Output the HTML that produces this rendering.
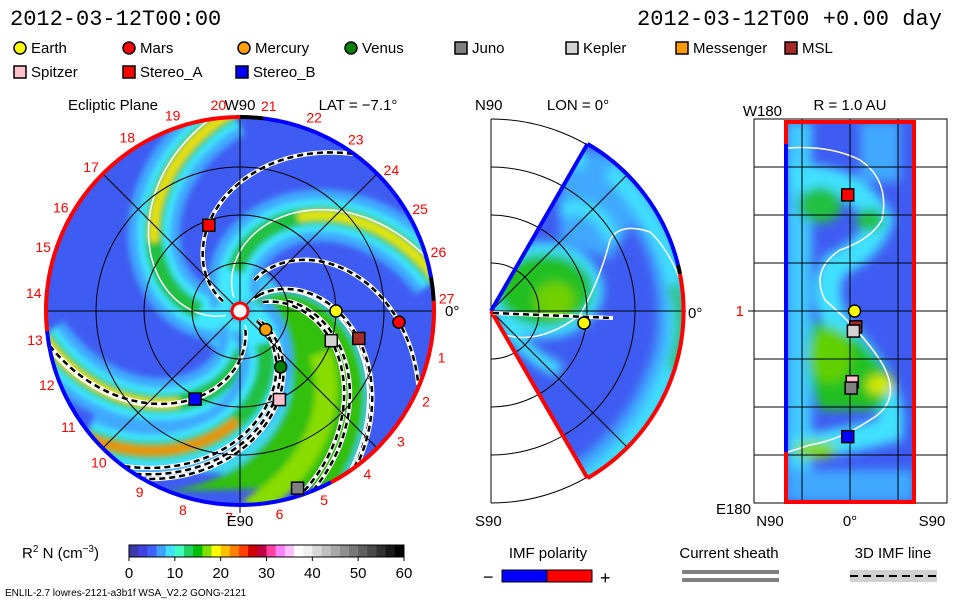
<!DOCTYPE html>
<html><head><meta charset="utf-8"><style>
html,body{margin:0;padding:0;background:#fff;}
svg{display:block;font-family:"Liberation Sans",sans-serif;}
</style></head><body>
<svg id="root" width="960" height="600" viewBox="0 0 960 600" xmlns="http://www.w3.org/2000/svg">
<defs>
  <filter id="blur3" x="-20%" y="-20%" width="140%" height="140%"><feGaussianBlur stdDeviation="3"/></filter>
  <filter id="blur5" x="-20%" y="-20%" width="140%" height="140%"><feGaussianBlur stdDeviation="5"/></filter>
  <clipPath id="diskClip"><circle cx="240" cy="311" r="194"/></clipPath>
  <clipPath id="wedgeClip"><path d="M491,311 L587.5,143.9 A193,193 0 0 1 587.5,478.1 Z"/></clipPath>
  <clipPath id="rectClip"><rect x="786" y="122" width="128" height="380"/></clipPath>
</defs>
<text x="10" y="25" font-family="Liberation Mono,monospace" font-size="22">2012-03-12T00:00</text>
<text x="942" y="25" text-anchor="end" font-family="Liberation Mono,monospace" font-size="22" textLength="305">2012-03-12T00 +0.00 day</text>
<g id="legend" font-size="15"></g>
<g id="left"></g>
<g id="mid"></g>
<g id="right"></g>
<g id="cbar"></g>
<g font-size="15">
  <text x="548" y="558" text-anchor="middle">IMF polarity</text>
  <text x="483" y="583" font-size="18">−</text>
  <rect x="502" y="570" width="45" height="12" fill="#0000ff" stroke="#000"/>
  <rect x="547" y="570" width="45" height="12" fill="#ff0000" stroke="#000"/>
  <text x="600" y="584" font-size="18">+</text>
  <text x="729" y="558" text-anchor="middle">Current sheath</text>
  <rect x="682" y="570" width="97" height="4" fill="#808080"/>
  <rect x="682" y="578" width="97" height="4" fill="#808080"/>
  <text x="893" y="558" text-anchor="middle">3D IMF line</text>
  <rect x="850" y="570" width="87" height="12" fill="#d0d0d0"/>
  <line x1="850" y1="576" x2="937" y2="576" stroke="#000" stroke-width="2" stroke-dasharray="8,5"/>
  <text x="5" y="596" font-size="10">ENLIL-2.7 lowres-2121-a3b1f WSA_V2.2 GONG-2121</text>
</g>
</svg>
<script>
// ---------------- data ----------------
const bodyNames  = ["Earth","Mars","Mercury","Venus","Juno","Kepler","Messenger","MSL","Spitzer","Stereo_A","Stereo_B"];
const bodyColors = ["#ffff00","#ff0000","#ffa000","#008000","#808080","#d3d3d3","#ff9900","#a52a2a","#ffc0cb","#ff0000","#0000ff"];
const bodyShapes = ["c","c","c","c","s","s","s","s","s","s","s"];
const bodyLon = [0, -4, -36, -54, -72, -18, -36, -13, -66, 110, 243];
const bodyR   = [1.0, 1.66, 0.33, 0.72, 1.94, 1.0, 0.33, 1.27, 1.01, 0.95, 1.03];
const visibleInPlane = [1,1,1,1,1,1,0,1,1,1,1];
const armOut   = [95, 12, 190, 222];
const armPeak  = ["#f0e000","#e8e800","#f0e000","#f09000"];
const fieldOut = [-54, -23, 54, 190, -72, -53, -123, -120, -127, -68];
const fieldRmin= [0.2, 0.5, 0.2, 0.2, 0.3, 0.3, 0.2, 0.3, 0.2, 0.8];
const rimLabels = ["19","20","21","22","23","24","25","26","27","1","2","3","4","5","6","7","8","9","10","11","12","13","14","15","16","17","18"];
const rimAngles = [109,96,82,69,56,43,29.5,16.5,3.5,-13,-26,-39,-52,-66,-79,-93,-106,-119,-133,-146,-159,-172,175,162,150,136,123];
const cbTicks = [0,10,20,30,40,50,60];
const cbColors = ["#3a3aa8","#4040e0","#4060ff","#40a0ff","#40e0ff","#40ffc0","#20d060","#00c000","#80e000","#ffff00","#ffc000","#ff8000","#ff4000","#d00000","#c00040","#ff40a0","#ff80ff","#ffc0ff","#ffffff","#f0f0f0","#d8d8d8","#c0c0c0","#a8a8a8","#909090","#787878","#606060","#484848","#303030","#181818","#000000"];
const mapNames = ["Stereo_A","Earth","MSL","Kepler","Spitzer","Juno","Stereo_B"];
const mapLon   = [110, 0, -15, -19, -67, -73, -119];
const mapLat   = [-2, 4, 5, 3, 2, 1, -2];
const mapColors= ["#ff0000","#ffff00","#a52a2a","#d3d3d3","#ffc0cb","#808080","#0000ff"];
const mapShapes= ["s","c","s","s","s","s","s"];

// ---------------- helpers ----------------
const NS="http://www.w3.org/2000/svg";
function el(tag, attrs, parent){const e=document.createElementNS(NS,tag);for(const k in attrs)e.setAttribute(k,attrs[k]);if(parent)parent.appendChild(e);return e;}
const CX=240, CY=311, R=194, AU=96, K=0.55;
function xAU(lon,r){return CX+r*AU*Math.cos(lon*Math.PI/180);}
function yAU(lon,r){return CY-r*AU*Math.sin(lon*Math.PI/180);}
function spiral(phiOut, rminPx, rmaxPx){
  let pts=[];
  for(let r=rminPx;r<=rmaxPx;r+=3){const phi=(phiOut+K*(R-r))*Math.PI/180;pts.push((CX+r*Math.cos(phi)).toFixed(1)+","+(CY-r*Math.sin(phi)).toFixed(1));}
  return pts.join(" ");
}
function marker(parent, x, y, color, shape){
  if(shape==="c") return el("circle",{cx:x,cy:y,r:6,fill:color,stroke:"#000","stroke-width":1.5},parent);
  return el("rect",{x:x-6,y:y-6,width:12,height:12,fill:color,stroke:"#000","stroke-width":1.5},parent);
}

// ---------------- legend ----------------
const lg=document.getElementById("legend");
const legX=[14,123,238,345,455,566,676,785,14,123,236], legY=[48,48,48,48,48,48,48,48,72,72,72];
for(let i=0;i<bodyNames.length;i++){
  const m=marker(lg, legX[i]+6, legY[i], bodyColors[i], bodyShapes[i]);
  
  
  const t=el("text",{x:legX[i]+17,y:legY[i]+5},lg); t.textContent=bodyNames[i];
  
  
}

// ---------------- left panel ----------------
const L=document.getElementById("left");
const disk=el("g",{"clip-path":"url(#diskClip)"},L);
el("circle",{cx:CX,cy:CY,r:R,fill:"#3f5cf2"},disk);
const blurG=el("g",{filter:"url(#blur3)"},disk);
el("circle",{cx:CX,cy:CY,r:45,fill:"#40c8ff"},blurG);
(function(){
  let a=[],b=[];
  for(let r=15;r<=200;r+=4){let p=(-55+K*(R-r))*Math.PI/180;a.push((CX+r*Math.cos(p)).toFixed(1)+","+(CY-r*Math.sin(p)).toFixed(1));}
  for(let r=200;r>=15;r-=4){let p=(-125+K*(R-r))*Math.PI/180;b.push((CX+r*Math.cos(p)).toFixed(1)+","+(CY-r*Math.sin(p)).toFixed(1));}
  el("polygon",{points:a.concat(b).join(" "),fill:"#40d8f0"},blurG);
  a=[];b=[];
  for(let r=20;r<=200;r+=4){let p=(-58+K*(R-r))*Math.PI/180;a.push((CX+r*Math.cos(p)).toFixed(1)+","+(CY-r*Math.sin(p)).toFixed(1));}
  for(let r=200;r>=20;r-=4){let p=(-112+K*(R-r))*Math.PI/180;b.push((CX+r*Math.cos(p)).toFixed(1)+","+(CY-r*Math.sin(p)).toFixed(1));}
  const g=el("polygon",{points:a.concat(b).join(" "),fill:"#30c010"},blurG);
  
  
  el("polyline",{points:spiral(-85,90,200),fill:"none",stroke:"#88dc00","stroke-width":22},blurG);
})();
for(let i=0;i<armOut.length;i++){
  el("polyline",{points:spiral(armOut[i],10,200),fill:"none",stroke:"#40a8ff","stroke-width":52},blurG);
  el("polyline",{points:spiral(armOut[i],10,200),fill:"none",stroke:"#40e8ff","stroke-width":32},blurG);
  el("polyline",{points:spiral(armOut[i],40,200),fill:"none",stroke:"#20c040","stroke-width":18},blurG);
  const p=el("polyline",{points:spiral(armOut[i],110,200),fill:"none",stroke:armPeak[i],"stroke-width":9},blurG);
  
  
}
[95,12,188,-60].forEach(a=>el("polyline",{points:spiral(a+4,15,200),fill:"none",stroke:"#fff","stroke-width":1.5},disk));
const grid=el("g",{stroke:"#000","stroke-width":1,fill:"none"},L);
[48,96,144].forEach(r=>el("circle",{cx:CX,cy:CY,r:r},grid));
el("line",{x1:CX-R,y1:CY,x2:CX+R,y2:CY},grid);
el("line",{x1:CX,y1:CY-R,x2:CX,y2:CY+R+8},grid);
el("line",{x1:CX-137,y1:CY-137,x2:CX+137,y2:CY+137},grid);
el("line",{x1:CX-137,y1:CY+137,x2:CX+137,y2:CY-137},grid);
for(let i=0;i<fieldOut.length;i++){
  const pts=spiral(fieldOut[i],fieldRmin[i]*AU*0.5+10,R);
  el("polyline",{points:pts,fill:"none",stroke:"#fff","stroke-width":4.5},disk);
  const f=el("polyline",{points:pts,fill:"none",stroke:"#000","stroke-width":2.5,"stroke-dasharray":"6,4"},disk);
  
  
}
function arc(a1,a2,color){
  const p1=[CX+R*Math.cos(a1*Math.PI/180),CY-R*Math.sin(a1*Math.PI/180)];
  const p2=[CX+R*Math.cos(a2*Math.PI/180),CY-R*Math.sin(a2*Math.PI/180)];
  const large=(a2-a1)>180?1:0;
  return el("path",{d:"M"+p1[0]+","+p1[1]+" A"+R+","+R+" 0 "+large+" 0 "+p2[0]+","+p2[1],fill:"none",stroke:color,"stroke-width":4},L);
}
arc(90,186,"#ff0000");arc(186,298,"#0000ff");arc(298,363,"#ff0000");arc(363,370,"#000");arc(370,443,"#0000ff");arc(443,450,"#000");
el("circle",{cx:CX,cy:CY,r:8,fill:"#fff",stroke:"#ff0000","stroke-width":3},L);
for(let i=0;i<bodyNames.length;i++){
  if(!visibleInPlane[i]) continue;
  const m=marker(L,xAU(bodyLon[i],bodyR[i]),yAU(bodyLon[i],bodyR[i]),bodyColors[i],bodyShapes[i]);
  
  
}
for(let i=0;i<rimLabels.length;i++){
  const a=rimAngles[i]*Math.PI/180, rr=R+13;
  const t=el("text",{x:CX+rr*Math.cos(a),y:CY-rr*Math.sin(a)+5,fill:"#ff0000","font-size":14,"text-anchor":"middle"},L);
  t.textContent=rimLabels[i];
  
  
}
[["Ecliptic Plane",113,110,"middle"],["W90",240,110,"middle"],["LAT = −7.1°",358,110,"middle"],["E90",240,526,"middle"],["0°",445,316,"start"]].forEach(d=>{
  const t=el("text",{x:d[1],y:d[2],"font-size":15,"text-anchor":d[3]},L);t.textContent=d[0];
  
  
});

// ---------------- middle panel ----------------
const M=document.getElementById("mid");
const MX=491, MY=311;
el("line",{x1:MX,y1:119,x2:MX,y2:503,stroke:"#000"},M);
[48,96,144,192].forEach(r=>el("path",{d:"M"+MX+","+(MY-r)+" A"+r+","+r+" 0 0 1 "+MX+","+(MY+r),fill:"none",stroke:"#000"},M));
const wedge=el("g",{"clip-path":"url(#wedgeClip)"},M);
el("rect",{x:MX,y:100,width:200,height:420,fill:"#3f5cf2"},wedge);
const wb=el("g",{filter:"url(#blur5)"},wedge);
el("path",{d:"M560,160 L600,150 L640,210 L610,260 L560,240 Z",fill:"#40a8ff"},wb);
el("path",{d:"M600,160 Q690,240 672,350 Q645,440 575,482",fill:"none",stroke:"#40a8ff","stroke-width":34},wb);
el("path",{d:"M610,170 Q690,250 675,350 Q650,440 580,485",fill:"none",stroke:"#40e0ff","stroke-width":16},wb);
el("path",{d:"M520,150 L585,160",fill:"none",stroke:"#40e0ff","stroke-width":18},wb);
el("path",{d:"M560,210 Q600,200 612,240",fill:"none",stroke:"#40e0ff","stroke-width":14},wb);
el("ellipse",{cx:545,cy:290,rx:58,ry:48,fill:"#40e0ff"},wb);
el("ellipse",{cx:545,cy:290,rx:48,ry:36,fill:"#20c020"},wb);
el("ellipse",{cx:555,cy:300,rx:20,ry:18,fill:"#70d000"},wb);
el("path",{d:"M672,285 Q690,320 672,370",fill:"none",stroke:"#30c020","stroke-width":10},wb);
el("path",{d:"M500,318 Q530,360 560,370",fill:"none",stroke:"#40e0ff","stroke-width":14},wb);
el("path",{d:"M505,335 Q540,345 580,315 Q600,280 610,240 Q620,222 650,232 Q670,250 684,290",fill:"none",stroke:"#fff","stroke-width":1.5},wedge);
const mg=el("g",{stroke:"#000",fill:"none"},M);
el("line",{x1:MX,y1:MY,x2:686,y2:MY},mg);
el("line",{x1:MX,y1:MY,x2:MX+136,y2:MY-136},mg);
el("line",{x1:MX,y1:MY,x2:MX+136,y2:MY+136},mg);
[48,96,144].forEach(r=>el("path",{d:"M"+(MX+r*0.5)+","+(MY-r*0.866)+" A"+r+","+r+" 0 0 1 "+(MX+r*0.5)+","+(MY+r*0.866)},mg));
el("path",{d:"M"+MX+","+MY+" L587.5,143.9",stroke:"#0000ff","stroke-width":4},M);
el("path",{d:"M"+MX+","+MY+" L587.5,478.1",stroke:"#ff0000","stroke-width":4},M);
el("path",{d:"M587.5,143.9 A193,193 0 0 1 678,265",fill:"none",stroke:"#0000ff","stroke-width":4},M);
el("path",{d:"M678,265 A193,193 0 0 1 680,274",fill:"none",stroke:"#000","stroke-width":4},M);
el("path",{d:"M680,274 A193,193 0 0 1 587.5,478.1",fill:"none",stroke:"#ff0000","stroke-width":4},M);
el("line",{x1:MX+2,y1:MY+2,x2:613,y2:MY+7,stroke:"#fff","stroke-width":4},M);
el("line",{x1:MX+2,y1:MY+2,x2:613,y2:MY+7,stroke:"#000","stroke-width":2.5,"stroke-dasharray":"6,4"},M);
const me=marker(M,584,323,"#ffff00","c");


[["N90",475,110,"start"],["LON = 0°",578,110,"middle"],["0°",688,318,"start"],["S90",475,526,"start"]].forEach(d=>{
  const t=el("text",{x:d[1],y:d[2],"font-size":15,"text-anchor":d[3]},M);t.textContent=d[0];
  
  
});

// ---------------- right panel ----------------
const Rg=document.getElementById("right");
el("rect",{x:754,y:119,width:193,height:384,fill:"none",stroke:"#000"},Rg);
const rc=el("g",{"clip-path":"url(#rectClip)"},Rg);
el("rect",{x:786,y:122,width:128,height:380,fill:"#3f5cf2"},rc);
const rb=el("g",{filter:"url(#blur5)"},rc);
el("rect",{x:786,y:122,width:26,height:380,fill:"#40c8ff"},rb);
el("rect",{x:860,y:122,width:40,height:60,fill:"#40a8ff"},rb);
el("path",{d:"M790,180 Q850,170 880,220 Q870,250 835,265 Q815,300 850,340 Q895,390 890,430 Q850,440 790,450",fill:"none",stroke:"#40e0ff","stroke-width":26},rb);
el("ellipse",{cx:820,cy:205,rx:22,ry:18,fill:"#20c040"},rb);
el("ellipse",{cx:870,cy:220,rx:14,ry:12,fill:"#20c040"},rb);
el("path",{d:"M815,320 Q800,360 820,410 L880,410 L895,380 L860,340 Z",fill:"#20c020"},rb);
el("ellipse",{cx:830,cy:355,rx:22,ry:28,fill:"#60d000"},rb);
el("ellipse",{cx:880,cy:385,rx:14,ry:10,fill:"#d0e800"},rb);
el("ellipse",{cx:815,cy:450,rx:22,ry:9,fill:"#80d800"},rb);
el("rect",{x:786,y:470,width:128,height:32,fill:"#40a8ff"},rb);
el("path",{d:"M788,148 Q830,145 860,160 Q890,180 882,220 Q870,240 840,250 Q810,270 825,300 Q860,330 880,360 Q905,400 870,420 Q840,440 810,445 L788,452",fill:"none",stroke:"#fff","stroke-width":1.5},rc);
const rgrid=el("g",{stroke:"#000"},Rg);
[802,850,898].forEach(x=>el("line",{x1:x,y1:119,x2:x,y2:503},rgrid));
[167,215,263,311,359,407,455].forEach(y=>el("line",{x1:754,y1:y,x2:947,y2:y},rgrid));
el("line",{x1:748,y1:311,x2:754,y2:311},rgrid);
el("rect",{x:786,y:122,width:128,height:380,fill:"none",stroke:"#ff0000","stroke-width":4},Rg);
el("line",{x1:786,y1:144,x2:786,y2:452,stroke:"#0000ff","stroke-width":4},Rg);
for(let i=0;i<mapNames.length;i++){
  const x=850+mapLat[i]*128/180*1.6, y=311-mapLon[i]*380/360;
  const m=marker(Rg,x,y,mapColors[i],mapShapes[i]);
  
  
}
[["W180",782,116,"end","#000"],["R = 1.0 AU",850,110,"middle","#000"],["1",744,316,"end","#ff0000"],["E180",751,514,"end","#000"],["N90",770,526,"middle","#000"],["0°",850,526,"middle","#000"],["S90",932,526,"middle","#000"]].forEach(d=>{
  const t=el("text",{x:d[1],y:d[2],"font-size":15,"text-anchor":d[3],fill:d[4]},Rg);t.textContent=d[0];
  
  
});

// ---------------- colorbar ----------------
const C=document.getElementById("cbar");
const cbX0=129, cbX1=404, cbY=545, cbH=12;
function cbx(v){return cbX0+(v-cbTicks[0])/(cbTicks[cbTicks.length-1]-cbTicks[0])*(cbX1-cbX0);}
const step=(cbTicks[cbTicks.length-1]-cbTicks[0])/cbColors.length;
for(let i=0;i<cbColors.length;i++){
  const r=el("rect",{x:cbx(i*step),y:cbY,width:cbx((i+1)*step)-cbx(i*step)+0.5,height:cbH,fill:cbColors[i]},C);
  
  
}
el("rect",{x:cbX0,y:cbY,width:cbX1-cbX0,height:cbH,fill:"none",stroke:"#000"},C);
cbTicks.forEach(v=>{
  el("line",{x1:cbx(v),y1:cbY+cbH,x2:cbx(v),y2:cbY+cbH+4,stroke:"#000"},C);
  const t=el("text",{x:cbx(v),y:578,"font-size":15,"text-anchor":"middle"},C);t.textContent=v;
  
  
});
const ct=el("text",{x:22,y:558,"font-size":15},C);
const parts=[["R",0,15],["2",-6,10],[" N (cm",6,15],["−3",-6,10],[")",6,15]];
parts.forEach(p=>{const s=el("tspan",{dy:p[1],"font-size":p[2]},ct);s.textContent=p[0];});


</script>
</body></html>
